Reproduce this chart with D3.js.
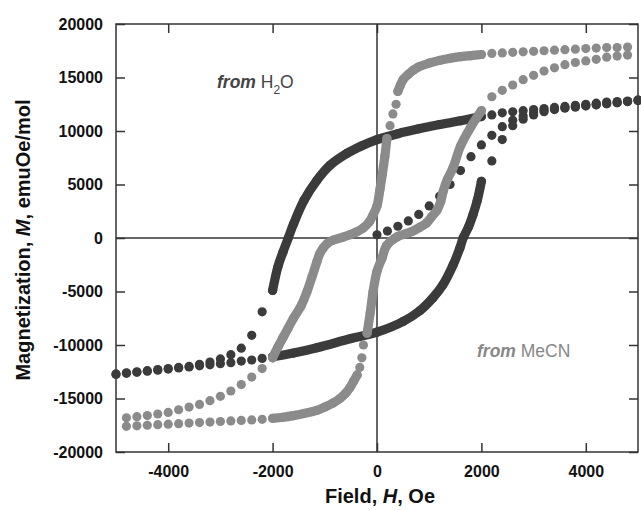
<!DOCTYPE html>
<html>
<head>
<meta charset="utf-8">
<script src="https://cdn.jsdelivr.net/npm/d3@7"></script>
<style>
  html, body { margin: 0; padding: 0; background: #fff; }
  svg { display: block; font-family: "Liberation Sans", Arial, sans-serif; }
</style>
</head>
<body>
<div id="chart"></div>
<script>
// ---------- data (field H in Oe, magnetization M in emuOe/mol) ----------
const xTicks = [-4000, -2000, 0, 2000, 4000];
const yTicks = [-20000, -15000, -10000, -5000, 0, 5000, 10000, 15000, 20000];

// sample "from H2O" (dark)
const h2oInitial = [[0,300],[200,650],[400,1100],[600,1600],[800,2200],[1000,3000],[1200,3900],[1400,5000],[1600,6300],[1800,7600],[2000,8700],[2200,9600],[2400,10400],[2600,11000],[2800,11400],[3000,11700],[3200,11900],[3400,12050],[3600,12150],[3800,12250],[4000,12350],[4200,12450],[4400,12550],[4600,12650],[4800,12750],[5000,12850]];
const h2oDescRight = [[5000,12900],[4800,12800],[4600,12750],[4400,12700],[4200,12600],[4000,12500],[3800,12400],[3600,12300],[3400,12200],[3200,12100],[3000,12000],[2800,11900],[2600,11800],[2400,11700],[2200,11500]];
const h2oDescDense = [[2000,11350],[1600,10950],[1200,10600],[800,10200],[400,9750],[0,9200],[-300,8600],[-580,7900],[-900,6800],[-1150,5400],[-1400,3500],[-1600,1300],[-1700,0],[-1800,-1300],[-1900,-2700],[-2000,-4900]];
const h2oDescLeft = [[-2200,-6900],[-2400,-9100],[-2600,-10300],[-2800,-10900],[-3000,-11300],[-3200,-11600],[-3400,-11800],[-3600,-12000],[-3800,-12100],[-4000,-12200],[-4200,-12300],[-4400,-12400],[-4600,-12500],[-4800,-12600],[-5000,-12700]];
const h2oAscLeft = [[-5000,-12750],[-4800,-12650],[-4600,-12550],[-4400,-12450],[-4200,-12350],[-4000,-12250],[-3800,-12150],[-3600,-12050],[-3400,-11950],[-3200,-11850],[-3000,-11750],[-2800,-11650],[-2600,-11500],[-2400,-11400],[-2200,-11250]];
const h2oAscDense = [[-2000,-11100],[-1600,-10750],[-1150,-10250],[-500,-9400],[0,-8800],[500,-7800],[820,-6800],[1070,-5600],[1260,-4400],[1460,-2500],[1590,-900],[1650,0],[1750,1000],[1840,2200],[1920,3500],[2000,5300]];
const h2oAscRight = [[2200,7200],[2400,9200],[2600,10500],[2800,11100],[3000,11500],[3200,11800],[3400,12000],[3600,12150],[3800,12250],[4000,12350],[4200,12450],[4400,12550],[4600,12650],[4800,12750],[5000,12850]];

// sample "from MeCN" (grey)
const mecnDescRight = [[4800,17850],[4600,17800],[4400,17800],[4200,17750],[4000,17700],[3800,17650],[3600,17600],[3400,17550],[3200,17500],[3000,17450],[2800,17400],[2600,17350],[2400,17300],[2200,17250]];
const mecnDescDense1 = [[2000,17150],[1800,17050],[1600,16950],[1400,16800],[1200,16600],[1000,16350],[800,16000],[700,15700],[600,15300],[500,14800],[450,14300],[400,13700]];
const mecnDescSteep = [[365,12500],[305,11600],[250,10500]];
const mecnDescDense2 = [[190,9300],[150,7600],[100,5900],[55,4500],[0,3000],[-75,2150],[-150,1500],[-260,950],[-400,550],[-520,300],[-650,80],[-840,-200],[-950,-500],[-1030,-930],[-1100,-1500],[-1150,-2200],[-1250,-3700],[-1340,-5000],[-1450,-6300],[-1600,-7500],[-1700,-8400],[-1800,-9300],[-1900,-10200],[-2000,-11200]];
const mecnDescLeft = [[-2200,-12200],[-2400,-13000],[-2600,-13700],[-2800,-14300],[-3000,-14800],[-3200,-15200],[-3400,-15550],[-3600,-15800],[-3800,-16050],[-4000,-16300],[-4200,-16450],[-4400,-16600],[-4600,-16700],[-4800,-16800]];
const mecnAscLeft = [[-4800,-17600],[-4600,-17550],[-4400,-17500],[-4200,-17450],[-4000,-17400],[-3800,-17350],[-3600,-17300],[-3400,-17250],[-3200,-17200],[-3000,-17150],[-2800,-17100],[-2600,-17050],[-2400,-17000],[-2200,-16950]];
const mecnAscDense1 = [[-2000,-16850],[-1800,-16750],[-1600,-16600],[-1400,-16400],[-1150,-16100],[-1000,-15800],[-850,-15450],[-710,-15000],[-600,-14500],[-520,-14000],[-450,-13400],[-380,-12800]];
const mecnAscSteep = [[-330,-12100],[-290,-11200],[-260,-10000]];
const mecnAscDense2 = [[-190,-8900],[-130,-7000],[-75,-5000],[0,-3100],[95,-1900],[185,-700],[380,100],[550,400],[690,650],[820,1000],[950,1400],[1050,2000],[1150,2600],[1220,3400],[1270,4400],[1350,5500],[1460,6600],[1600,8600],[1800,10400],[2000,11900]];
const mecnAscRight = [[2200,13200],[2400,13800],[2600,14300],[2800,14800],[3000,15200],[3200,15600],[3400,15900],[3600,16200],[3800,16400],[4000,16550],[4200,16700],[4400,16900],[4600,17000],[4800,17100]];

(function () {
// ---------- layout ----------
const W = 641, H = 511;
const pL = 116, pR = 638, pT = 24, pB = 452;
const darkCol = "#3b3b3b", greyCol = "#8b8b8b", axisCol = "#333";
const R = 4.6;

const x = d3.scaleLinear().domain([-5000, 5000]).range([pL, pR]);
const y = d3.scaleLinear().domain([-20000, 20000]).range([pB, pT]);

const svg = d3.select("#chart").append("svg").attr("width", W).attr("height", H);
const axesG = svg.append("g");
const plot = svg.append("g");

const line = d3.line().x(d => x(d[0])).y(d => y(d[1])).curve(d3.curveCatmullRom.alpha(0.5));

function dots(data, col) {
  plot.append("g").selectAll("circle").data(data).join("circle")
    .attr("cx", d => x(d[0])).attr("cy", d => y(d[1])).attr("r", R).attr("fill", col);
}
function dense(data, col) {
  plot.append("path").datum(data)
    .attr("d", line).attr("fill", "none").attr("stroke", col)
    .attr("stroke-width", 2 * R).attr("stroke-linecap", "round").attr("stroke-linejoin", "round");
  dots(data, col);
}

// dark series
dots(h2oInitial, darkCol);
dots(h2oDescRight, darkCol);
dense(h2oDescDense, darkCol);
dots(h2oDescLeft, darkCol);
dots(h2oAscLeft, darkCol);
dense(h2oAscDense, darkCol);
dots(h2oAscRight, darkCol);

// grey series
dots(mecnDescRight, greyCol);
dense(mecnDescDense1, greyCol);
dots(mecnDescSteep, greyCol);
dense(mecnDescDense2, greyCol);
dots(mecnDescLeft, greyCol);
dots(mecnAscLeft, greyCol);
dense(mecnAscDense1, greyCol);
dots(mecnAscSteep, greyCol);
dense(mecnAscDense2, greyCol);
dots(mecnAscRight, greyCol);

// crosshair lines through zero
axesG.append("line").attr("x1", x(0)).attr("x2", x(0)).attr("y1", pT).attr("y2", pB)
  .attr("stroke", axisCol).attr("stroke-width", 1.5);
axesG.append("line").attr("x1", pL).attr("x2", pR).attr("y1", y(0)).attr("y2", y(0))
  .attr("stroke", axisCol).attr("stroke-width", 1.5);

// axes
const fmt = d => d < 0 ? "-" + Math.abs(d) : String(d);
const tickFont = g => g.selectAll("text").attr("font-size", 16).attr("font-weight", "bold").attr("fill", "#111");
const styleAxis = g => {
  g.select(".domain").remove();
  g.selectAll(".tick line").attr("stroke", axisCol).attr("stroke-width", 1.5);
};

axesG.append("g").attr("transform", `translate(0,${pB})`)
  .call(d3.axisBottom(x).tickValues(xTicks).tickSizeInner(-9).tickSizeOuter(0).tickPadding(14).tickFormat(fmt))
  .call(styleAxis).call(tickFont);

axesG.append("g").attr("transform", `translate(0,${pT})`)
  .call(d3.axisTop(x).tickValues(xTicks).tickSizeInner(-9).tickSizeOuter(0).tickFormat(""))
  .call(styleAxis);

axesG.append("g").attr("transform", `translate(${pL},0)`)
  .call(d3.axisLeft(y).tickValues(yTicks).tickSizeInner(-9).tickSizeOuter(0).tickPadding(13).tickFormat(fmt))
  .call(styleAxis).call(tickFont);

axesG.append("g").attr("transform", `translate(${pR},0)`)
  .call(d3.axisRight(y).tickValues(yTicks).tickSizeInner(-9).tickSizeOuter(0).tickFormat(""))
  .call(styleAxis);

// frame
axesG.append("rect").attr("x", pL).attr("y", pT).attr("width", pR - pL).attr("height", pB - pT)
  .attr("fill", "none").attr("stroke", axisCol).attr("stroke-width", 1.5);

// axis titles
const xt = svg.append("text").attr("x", (pL + pR) / 2 + 3).attr("y", 503)
  .attr("text-anchor", "middle").attr("font-size", 20).attr("font-weight", "bold").attr("fill", "#111");
xt.append("tspan").text("Field, ");
xt.append("tspan").attr("font-style", "italic").text("H");
xt.append("tspan").text(", Oe");

const yt = svg.append("text").attr("transform", `translate(30,${(pT + pB) / 2 + 2}) rotate(-90)`)
  .attr("text-anchor", "middle").attr("font-size", 20).attr("font-weight", "bold").attr("fill", "#111");
yt.append("tspan").text("Magnetization, ");
yt.append("tspan").attr("font-style", "italic").text("M");
yt.append("tspan").text(", emuOe/mol");

// annotations
const a1 = svg.append("text").attr("x", 217).attr("y", 88).attr("font-size", 17.5).attr("fill", "#444");
a1.append("tspan").attr("font-style", "italic").attr("font-weight", "bold").text("from");
a1.append("tspan").text(" H");
a1.append("tspan").attr("font-size", 12).attr("dy", 6).text("2");
a1.append("tspan").attr("dy", -6).text("O");

const a2 = svg.append("text").attr("x", 477).attr("y", 357).attr("font-size", 17.5).attr("fill", "#888");
a2.append("tspan").attr("font-style", "italic").attr("font-weight", "bold").text("from");
a2.append("tspan").text(" MeCN");
})();
</script>
</body>
</html>
